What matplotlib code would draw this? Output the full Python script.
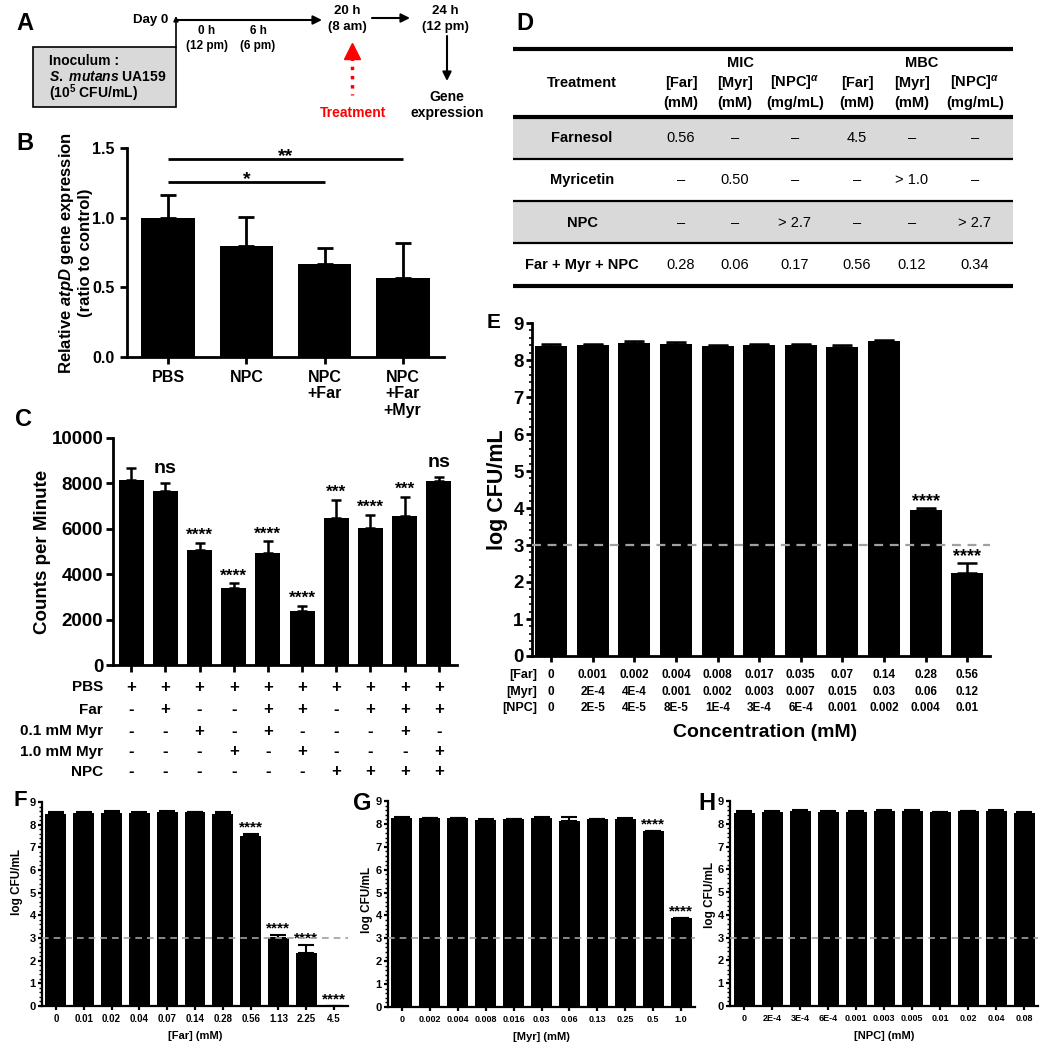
import numpy as np
import matplotlib
matplotlib.use("Agg")
import matplotlib.pyplot as plt
from matplotlib.ticker import MultipleLocator, FormatStrFormatter
from matplotlib.patches import Rectangle

plt.rcParams["font.family"] = ["Liberation Sans", "DejaVu Sans"]
plt.rcParams["font.weight"] = "bold"
plt.rcParams["axes.labelweight"] = "bold"
plt.rcParams["mathtext.fontset"] = "custom"
plt.rcParams["mathtext.rm"] = "Liberation Sans:bold"
plt.rcParams["mathtext.it"] = "Liberation Sans:italic:bold"
plt.rcParams["mathtext.bf"] = "Liberation Sans:bold"

W, H = 1050, 1047

# ---- B: atpD expression ----
b_groups = ["PBS", "NPC", "NPC\n+Far", "NPC\n+Far\n+Myr"]
b_mean = [1.00, 0.80, 0.67, 0.57]
b_err = [0.165, 0.205, 0.115, 0.245]

# ---- C: counts per minute ----
c_mean = [8150, 7665, 5065, 3390, 4935, 2380, 6475, 6035, 6565, 8105]
c_err = [530, 355, 310, 220, 525, 220, 795, 575, 835, 175]
c_sig = ["", "ns", "****", "****", "****", "****", "***", "****", "***", "ns"]
c_rows = ["PBS", "Far", "0.1 mM Myr", "1.0 mM Myr", "NPC"]
c_table = [
    "++++++++++",
    "-+--++-+++",
    "--+-+---+-",
    "---+-+---+",
    "------++++",
]

# ---- D: MIC / MBC table ----
d_rows = ["Farnesol", "Myricetin", "NPC", "Far + Myr + NPC"]
d_heads = ["[Far]\n(mM)", "[Myr]\n(mM)", "[NPC]$^{α}$\n(mg/mL)"]
d_mic = [["0.56", "–", "–"], ["–", "0.50", "–"], ["–", "–", "> 2.7"], ["0.28", "0.06", "0.17"]]
d_mbc = [["4.5", "–", "–"], ["–", "> 1.0", "–"], ["–", "–", "> 2.7"], ["0.56", "0.12", "0.34"]]

# ---- E: combination ----
e_mean = [8.38, 8.40, 8.46, 8.43, 8.38, 8.40, 8.40, 8.35, 8.51, 3.95, 2.24]
e_err = [0.05, 0.04, 0.05, 0.06, 0.02, 0.03, 0.04, 0.05, 0.04, 0.04, 0.27]
e_sig = [""] * 9 + ["****", "****"]
e_far = ["0", "0.001", "0.002", "0.004", "0.008", "0.017", "0.035", "0.07", "0.14", "0.28", "0.56"]
e_myr = ["0", "2E-4", "4E-4", "0.001", "0.002", "0.003", "0.007", "0.015", "0.03", "0.06", "0.12"]
e_npc = ["0", "2E-5", "4E-5", "8E-5", "1E-4", "3E-4", "6E-4", "0.001", "0.002", "0.004", "0.01"]

# ---- F/G/H: single agents ----
f_conc = ["0", "0.01", "0.02", "0.04", "0.07", "0.14", "0.28", "0.56", "1.13", "2.25", "4.5"]
f_mean = [8.47, 8.50, 8.50, 8.53, 8.55, 8.55, 8.48, 7.52, 3.02, 2.33, 0.0]
f_err = [0.08, 0.04, 0.10, 0.05, 0.07, 0.03, 0.07, 0.07, 0.13, 0.38, 0.0]
f_sig = [""] * 7 + ["****"] * 4

g_conc = ["0", "0.002", "0.004", "0.008", "0.016", "0.03", "0.06", "0.13", "0.25", "0.5", "1.0"]
g_mean = [8.27, 8.25, 8.25, 8.18, 8.20, 8.25, 8.12, 8.20, 8.22, 7.68, 3.87]
g_err = [0.02, 0.02, 0.02, 0.03, 0.03, 0.04, 0.20, 0.02, 0.02, 0.03, 0.03]
g_sig = [""] * 9 + ["****"] * 2

h_conc = ["0", "2E-4", "3E-4", "6E-4", "0.001", "0.003", "0.005", "0.01", "0.02", "0.04", "0.08"]
h_mean = [8.48, 8.53, 8.58, 8.52, 8.53, 8.57, 8.55, 8.50, 8.55, 8.55, 8.48]
h_err = [0.07, 0.03, 0.03, 0.03, 0.03, 0.05, 0.04, 0.03, 0.03, 0.04, 0.02]
h_sig = [""] * 11


def rect(x0, y0, x1, y1):
    return [x0 / W, 1 - y1 / H, (x1 - x0) / W, (y1 - y0) / H]


def bar_panel(box, mean, err, width, lw, cap, spine, tick_len):
    ax = fig.add_axes(rect(*box))
    ax.patch.set_visible(False)
    x = np.arange(len(mean))
    ax.bar(x, mean, width=width, color="black", zorder=3)
    ax.errorbar(x, mean, yerr=[np.zeros(len(err)), err], fmt="none", ecolor="black",
                elinewidth=lw, capsize=cap, capthick=lw, zorder=2)
    for s in ["top", "right"]:
        ax.spines[s].set_visible(False)
    for s in ["left", "bottom"]:
        ax.spines[s].set_linewidth(spine)
    ax.tick_params(width=spine, length=tick_len, direction="out")
    ax.set_xticks(x)
    return ax, x


def add_stars(ax, x, mean, err, labels, size, off):
    for xi, m, e, s in zip(x, mean, err, labels):
        if s:
            ax.annotate(s, (xi, m + e), xytext=(0, off), textcoords="offset points",
                        ha="center", va="baseline", fontsize=size, annotation_clip=False)


fig = plt.figure(figsize=(W / 100, H / 100), dpi=100)
ov = fig.add_axes([0, 0, 1, 1])
ov.set_xlim(0, W)
ov.set_ylim(H, 0)
ov.axis("off")

# panel letters
for lab, lx, ly, sz in [("A", 25, 23, 17), ("B", 25, 143, 17), ("C", 24, 420, 17), ("D", 525, 23, 17),
                        ("E", 494, 322, 15), ("F", 20, 800, 16), ("G", 362, 803, 17), ("H", 707, 803, 17)]:
    ov.text(lx, ly, lab, fontsize=sz, ha="center", va="center")

# ---- A: timeline ----
ov.add_patch(Rectangle((33, 47), 143, 60, facecolor="#d9d9d9", edgecolor="black", lw=1.2))
ov.text(49, 61, "Inoculum :", fontsize=10, va="center")
ov.text(49, 77, "$\\it{S.\\ mutans}$ UA159", fontsize=10, va="center")
ov.text(49, 93, "(10$^5$ CFU/mL)", fontsize=10, va="center")
ov.text(168, 20, "Day 0", fontsize=9.5, ha="right", va="center")
arr = dict(arrowstyle="-|>", color="black", lw=1.5, mutation_scale=13, shrinkA=0, shrinkB=0)
ov.annotate("", xy=(176, 16), xytext=(176, 47),
            arrowprops=dict(arrowstyle="-|>", color="black", lw=1.2, mutation_scale=7, shrinkA=0, shrinkB=0))
ov.annotate("", xy=(322, 20), xytext=(176, 20), arrowprops=arr)
ov.annotate("", xy=(410, 18), xytext=(372, 18), arrowprops=arr)
ov.annotate("", xy=(447, 81), xytext=(447, 36), arrowprops=arr)
for tx, t1, t2 in [(207, "0 h", "(12 pm)"), (258, "6 h", "(6 pm)")]:
    ov.text(tx, 31, t1, fontsize=8.5, ha="center", va="center")
    ov.text(tx, 46, t2, fontsize=8.5, ha="center", va="center")
for tx, t1, t2 in [(347, "20 h", "(8 am)"), (445, "24 h", "(12 pm)")]:
    ov.text(tx, 11, t1, fontsize=9.5, ha="center", va="center")
    ov.text(tx, 27, t2, fontsize=9.5, ha="center", va="center")
ov.plot([352, 352], [57, 95], color="red", ls=":", lw=2.5)
ov.plot(352, 51, marker="^", ms=11, color="red")
ov.text(353, 113, "Treatment", fontsize=10, color="red", ha="center", va="center")
ov.text(447, 97, "Gene", fontsize=10, ha="center", va="center")
ov.text(447, 113, "expression", fontsize=10, ha="center", va="center")

# ---- D: table ----
tx0, tx1 = 513, 1013
for ry in [(117, 159), (201, 243)]:
    ov.add_patch(Rectangle((tx0, ry[0]), tx1 - tx0, ry[1] - ry[0], facecolor="#d9d9d9", edgecolor="none"))
for ly, lw in [(49, 3.0), (117, 3.0), (159, 1.6), (201, 1.6), (243, 1.6), (286, 3.0)]:
    ov.plot([tx0, tx1], [ly, ly], color="black", lw=lw, solid_capstyle="butt")
col_x = [681, 735, 795, 857, 912, 975]
ov.text(582, 83, "Treatment", fontsize=10.5, ha="center", va="center")
ov.text(740, 63, "MIC", fontsize=10.5, ha="center", va="center")
ov.text(922, 63, "MBC", fontsize=10.5, ha="center", va="center")
for cx, head in zip(col_x, d_heads + d_heads):
    l1, l2 = head.split("\n")
    ov.text(cx, 83, l1, fontsize=10.5, ha="center", va="center")
    ov.text(cx, 103, l2, fontsize=10.5, ha="center", va="center")
for ry, name, mic, mbc in zip([138, 180, 223, 265], d_rows, d_mic, d_mbc):
    ov.text(582, ry, name, fontsize=10.5, ha="center", va="center")
    for cx, v in zip(col_x, mic + mbc):
        ov.text(cx, ry, v, fontsize=10.5, fontweight="normal", ha="center", va="center")

# ---- B ----
axb, xb = bar_panel((127, 148, 444, 357), b_mean, b_err, 0.69, 2.0, 5.5, 2.0, 5)
axb.set_xlim(-0.53, 3.53)
axb.set_ylim(0, 1.5)
axb.set_yticks([0, 0.5, 1.0, 1.5])
axb.yaxis.set_major_formatter(FormatStrFormatter("%.1f"))
axb.set_xticklabels(b_groups, linespacing=1.15)
axb.tick_params(labelsize=11.5, pad=4)
axb.set_ylabel("Relative $\\it{atpD}$ gene expression\n(ratio to control)", fontsize=12, va="center",
               linespacing=1.1)
axb.yaxis.set_label_coords(-0.164, 0.5)
for x1, yy, s in [(3, 1.42, "**"), (2, 1.256, "*")]:
    axb.plot([xb[0], xb[x1]], [yy, yy], color="black", lw=2.0, clip_on=False, solid_capstyle="butt")
    axb.annotate(s, ((xb[0] + xb[x1]) / 2, yy), xytext=(0, -1.5), textcoords="offset points",
                 ha="center", va="baseline", fontsize=14, annotation_clip=False)

# ---- C ----
axc, xc = bar_panel((113, 438, 457, 665), c_mean, c_err, 0.73, 1.8, 3.8, 2.0, 5)
axc.set_xlim(-0.53, 9.53)
axc.set_ylim(0, 10000)
axc.set_yticks(np.arange(0, 10001, 2000))
axc.set_xticklabels([])
axc.tick_params(axis="y", labelsize=13.5, pad=2)
axc.set_ylabel("Counts per Minute", fontsize=13.5, va="center")
axc.yaxis.set_label_coords(-0.206, 0.5)
for xi, m, e, s in zip(xc, c_mean, c_err, c_sig):
    if s == "ns":
        axc.annotate(s, (xi, m + e), xytext=(0, 7), textcoords="offset points", ha="center",
                     va="baseline", fontsize=14, annotation_clip=False)
    elif s:
        axc.annotate(s, (xi, m + e), xytext=(0, 2), textcoords="offset points", ha="center",
                     va="baseline", fontsize=12.5, annotation_clip=False)
xt = axc.get_xaxis_transform()
for ry, name, pattern in zip([-0.097, -0.198, -0.291, -0.383, -0.471], c_rows, c_table):
    axc.text(-0.029, ry, name, transform=axc.transAxes, fontsize=11, ha="right", va="center")
    for xi, sym in zip(xc, pattern):
        axc.text(xi, ry, sym, transform=xt, fontsize=12, ha="center", va="center")

# ---- E ----
axe, xe = bar_panel((532, 323, 990, 656), e_mean, e_err, 0.77, 1.8, 7.0, 2.0, 4)
axe.set_xlim(-0.46, 10.55)
axe.set_ylim(0, 9)
axe.set_yticks(np.arange(0, 10))
axe.yaxis.set_minor_locator(MultipleLocator(0.2))
axe.tick_params(axis="y", which="minor", length=2.5, width=1.2)
axe.set_xticklabels([])
axe.tick_params(axis="y", labelsize=13.5, pad=2)
axe.axhline(3, color="#a0a0a0", lw=1.6, ls=(0, (4, 3)), zorder=4)
add_stars(axe, xe, e_mean, e_err, e_sig, 13, 1.5)
axe.set_ylabel("log CFU/mL", fontsize=15.5, va="center")
axe.yaxis.set_label_coords(-0.076, 0.5)
axe.set_xlabel("Concentration (mM)", fontsize=14, va="center")
axe.xaxis.set_label_coords(0.509, -0.231)
xt = axe.get_xaxis_transform()
for ry, name, vals in zip([-0.057, -0.108, -0.156], ["[Far]", "[Myr]", "[NPC]"], [e_far, e_myr, e_npc]):
    axe.text(0.011, ry, name, transform=axe.transAxes, fontsize=9, ha="right", va="center")
    for xi, v in zip(xe, vals):
        axe.text(xi, ry, v, transform=xt, fontsize=8.5, ha="center", va="center")

# ---- F, G, H ----
small = [
    ((42, 802, 348, 1006), f_mean, f_err, f_sig, f_conc, "[Far] (mM)", (-0.082, 0.61), 7),
    ((388, 801, 695, 1007), g_mean, g_err, g_sig, g_conc, "[Myr] (mM)", (-0.068, 0.52), 6.5),
    ((730, 801, 1038, 1006), h_mean, h_err, h_sig, h_conc, "[NPC] (mM)", (-0.065, 0.54), 6.5),
]
for box, mean, err, sig, conc, xlab, ylc, tsz in small:
    ax, x = bar_panel(box, mean, err, 0.75, 1.5, 6.0, 1.6, 3)
    ax.set_xlim(-0.5, 10.5)
    ax.set_ylim(0, 9)
    ax.set_yticks(np.arange(0, 10))
    ax.yaxis.set_minor_locator(MultipleLocator(0.2))
    ax.tick_params(axis="y", which="minor", length=2, width=1.0)
    ax.set_xticklabels(conc)
    ax.tick_params(axis="x", labelsize=tsz, pad=3)
    ax.tick_params(axis="y", labelsize=8, pad=1.5)
    ax.axhline(3, color="#a0a0a0", lw=1.2, ls=(0, (4, 3)), zorder=4)
    add_stars(ax, x, mean, err, sig, 11, 1.5)
    ax.set_ylabel("log CFU/mL", fontsize=8.5, va="center")
    ax.yaxis.set_label_coords(*ylc)
    ax.set_xlabel(xlab, fontsize=8, va="center")
    ax.xaxis.set_label_coords(0.5, -0.147)

fig.savefig("out.png", dpi=100)
